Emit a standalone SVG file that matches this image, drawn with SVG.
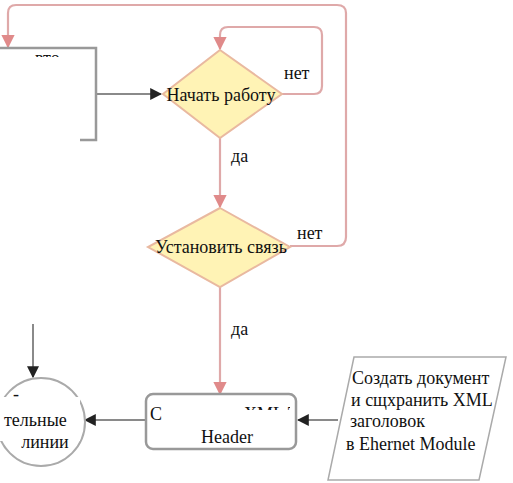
<svg xmlns="http://www.w3.org/2000/svg" width="513" height="483" viewBox="0 0 513 483">
<style>
text{font-family:'Liberation Serif','Times New Roman','DejaVu Serif',serif;font-size:18px;fill:#111}
.pink{fill:none;stroke:#dfa9a9;stroke-width:2.2}
.gray{fill:none;stroke:#8a8a8a;stroke-width:2}
.dia{fill:#fff3b5;stroke:#e9b9a0;stroke-width:2}
</style>
<defs>
<marker id="ap" viewBox="0 0 10 10" refX="9" refY="5" markerWidth="6" markerHeight="6" orient="auto"><path d="M0,0L10,5L0,10z" fill="#e08a8a"/></marker>
<marker id="ad" viewBox="0 0 10 10" refX="9" refY="5" markerWidth="6" markerHeight="6" orient="auto"><path d="M0,0L10,5L0,10z" fill="#222"/></marker>
<clipPath id="c1"><rect x="0" y="49" width="100" height="8"/></clipPath>
<clipPath id="c2"><rect x="230" y="395" width="60" height="15"/></clipPath>
<clipPath id="c3"><rect x="0" y="414" width="80" height="20"/></clipPath>
</defs>
<rect width="513" height="483" fill="#fff"/>
<g id="connectors">
<path class="pink" d="M282,94 H314 Q322,94 322,86 V35 Q322,27 314,27 H228 Q220,27 220,35 V49" marker-end="url(#ap)"/>
<path class="pink" d="M290,246 H337 Q346,246 346,237 V13 Q346,5 337,5 H16 Q8,5 8,13 V47" marker-end="url(#ap)"/>
<path class="gray" d="M96,94 H161" marker-end="url(#ad)"/>
<path class="pink" d="M220,138 V207" marker-end="url(#ap)"/>
<path class="pink" d="M220,287 V394" marker-end="url(#ap)"/>
<path class="gray" d="M338,420 H298" marker-end="url(#ad)"/>
<path class="gray" d="M145,420 H85" marker-end="url(#ad)"/>
<path class="gray" d="M33,324 V377" marker-end="url(#ad)"/>
</g>
<g id="box-left">
<path d="M0,48 H96 V140 H80" fill="none" stroke="#999" stroke-width="2.5"/>
<text x="35" y="64" clip-path="url(#c1)">вто</text>
</g>
<g id="start">
<polygon class="dia" points="220,50 282,94 220,138 163,94"/>
<text x="221" y="101" text-anchor="middle">Начать работу</text>
<text x="284" y="79">нет</text>
<text x="231" y="162">да</text>
</g>
<g id="connect">
<polygon class="dia" points="220,208 290,247 220,287 148,247"/>
<text x="221" y="253" text-anchor="middle">Установить связь</text>
<text x="297" y="239">нет</text>
<text x="231" y="335">да</text>
</g>
<g id="header">
<rect x="146" y="394" width="150" height="55" rx="7" fill="#fff" stroke="#999" stroke-width="2.5"/>
<text x="150" y="420">С</text>
<text x="178" y="420" clip-path="url(#c2)">.</text>
<text x="244" y="420" clip-path="url(#c2)">XML Т.</text>
<text x="227" y="443" text-anchor="middle">Header</text>
</g>
<g id="line-circle">
<circle cx="41" cy="422" r="44" fill="#fff" stroke="#aaa" stroke-width="2"/>
<rect x="0" y="397" width="80" height="44" fill="#fff"/>
<text x="13" y="400" font-size="10">-</text>
<text x="4" y="426" clip-path="url(#c3)">тельные</text>
<text x="45" y="448" text-anchor="middle">линии</text>
</g>
<g id="doc">
<polygon points="354,357 506,357 479,480 328,480" fill="#fff" stroke="#aaa" stroke-width="1.5"/>
<text x="352" y="384">Создать документ</text>
<text x="351" y="406">и сщхранить XML</text>
<text x="350" y="427">заголовок</text>
<text x="346" y="450">в Ehernet Module</text>
</g>
</svg>
